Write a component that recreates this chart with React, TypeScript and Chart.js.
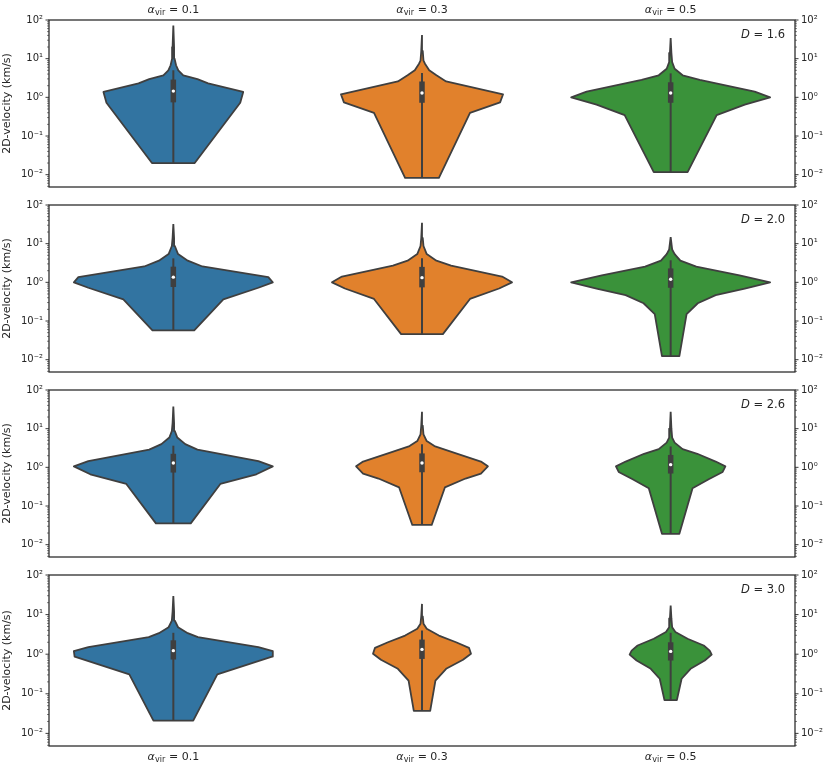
import { useEffect, useRef } from "react";
import { Chart, registerables } from "chart.js";

Chart.register(...registerables);

// ---------- data ----------
const alphaLabels = ["0.1", "0.3", "0.5"];
const dLabels = ["1.6", "2.0", "2.6", "3.0"];
const fillColors = ["#3274a1", "#e1812c", "#3a923a"];
const yTickValues = [0.01, 0.1, 1, 10, 100];
const yTickLabels = ["10⁻²", "10⁻¹", "10⁰", "10¹", "10²"];
const Y_MIN = 0.0048;
const Y_MAX = 100;

// violin outlines: velocity (km/s) from top to bottom, and half-width (category units)
// box stats: [min, q1, median, q3, upper whisker]
// D = 1.6
const v16a = [72.4, 20, 10, 6.76, 5.01, 3.72, 2.95, 2.29, 1.38, 0.724, 0.02];
const w16a = [0, 0.003, 0.005, 0.011, 0.02, 0.04, 0.097, 0.14, 0.281, 0.269, 0.086];
const b16a = [0.02, 0.741, 1.45, 2.88, 5.01];
const v16b = [40.7, 15.8, 8.91, 7.41, 5.01, 3.72, 2.57, 1.2, 0.741, 0.398, 0.0083];
const w16b = [0, 0.003, 0.006, 0.012, 0.029, 0.058, 0.097, 0.326, 0.314, 0.193, 0.068];
const b16b = [0.0083, 0.724, 1.29, 2.57, 4.27];
const v16c = [33.9, 14, 8.13, 5.5, 3.72, 2.82, 1.41, 1.0, 0.646, 0.347, 0.0117];
const w16c = [0, 0.003, 0.006, 0.016, 0.048, 0.117, 0.338, 0.4, 0.298, 0.185, 0.068];
const b16c = [0.0117, 0.724, 1.29, 2.45, 4.17];
// D = 2.0
const v20a = [32.4, 14, 8.71, 5.37, 3.63, 2.57, 1.36, 1.0, 0.724, 0.363, 0.0575];
const w20a = [0, 0.003, 0.006, 0.019, 0.058, 0.117, 0.382, 0.4, 0.342, 0.201, 0.084];
const b20a = [0.0575, 0.759, 1.36, 2.54, 4.17];
const v20b = [34.7, 14, 8.71, 5.37, 3.63, 2.69, 1.41, 1.0, 0.692, 0.372, 0.0457];
const w20b = [0, 0.003, 0.006, 0.019, 0.058, 0.117, 0.322, 0.362, 0.31, 0.193, 0.084];
const b20b = [0.0457, 0.741, 1.32, 2.51, 4.17];
const v20c = [14.8, 7.08, 5.37, 3.63, 2.54, 1.51, 1.0, 0.692, 0.468, 0.288, 0.151, 0.0123];
const w20c = [0, 0.006, 0.016, 0.039, 0.103, 0.277, 0.4, 0.298, 0.181, 0.109, 0.064, 0.035];
const b20c = [0.0123, 0.724, 1.2, 2.29, 3.72];
// D = 2.6
const v26a = [37.2, 14, 8.71, 5.89, 3.98, 2.86, 1.45, 1.06, 0.661, 0.372, 0.0355];
const w26a = [0, 0.003, 0.006, 0.016, 0.048, 0.097, 0.342, 0.4, 0.334, 0.189, 0.07];
const b26a = [0.0355, 0.733, 1.29, 2.24, 3.63];
const v26b = [27.5, 12, 7.08, 4.79, 3.55, 2.29, 1.41, 1.06, 0.692, 0.513, 0.302, 0.0324];
const w26b = [0, 0.003, 0.006, 0.019, 0.05, 0.137, 0.237, 0.265, 0.237, 0.175, 0.092, 0.039];
const b26b = [0.0324, 0.746, 1.29, 2.29, 3.98];
const v26c = [27.5, 10, 5.89, 4.37, 2.95, 2.24, 1.41, 1.06, 0.759, 0.49, 0.288, 0.0191];
const w26c = [0, 0.003, 0.006, 0.016, 0.048, 0.107, 0.181, 0.22, 0.209, 0.153, 0.088, 0.035];
const b26c = [0.0191, 0.692, 1.175, 2.09, 3.47];
// D = 3.0
const v30a = [29.5, 12, 7.08, 4.79, 3.39, 2.69, 1.51, 1.19, 0.871, 0.309, 0.0209];
const w30a = [0, 0.003, 0.006, 0.019, 0.058, 0.099, 0.342, 0.4, 0.397, 0.177, 0.08];
const b30a = [0.0209, 0.733, 1.23, 2.24, 3.47];
const v30b = [18.6, 9, 5.89, 4.37, 2.95, 2.0, 1.45, 1.023, 0.724, 0.427, 0.214, 0.0372];
const w30b = [0, 0.003, 0.006, 0.019, 0.068, 0.137, 0.189, 0.197, 0.165, 0.097, 0.054, 0.033];
const b30b = [0.0372, 0.759, 1.32, 2.34, 3.98];
const v30c = [17.0, 8, 4.79, 3.63, 2.45, 1.66, 1.23, 0.977, 0.692, 0.427, 0.24, 0.0692];
const w30c = [0, 0.003, 0.006, 0.019, 0.068, 0.133, 0.157, 0.165, 0.137, 0.08, 0.044, 0.025];
const b30c = [0.0692, 0.692, 1.175, 2.0, 3.47];

const panels = [
  { d: dLabels[0], violins: [{ v: v16a, w: w16a, b: b16a }, { v: v16b, w: w16b, b: b16b }, { v: v16c, w: w16c, b: b16c }] },
  { d: dLabels[1], violins: [{ v: v20a, w: w20a, b: b20a }, { v: v20b, w: w20b, b: b20b }, { v: v20c, w: w20c, b: b20c }] },
  { d: dLabels[2], violins: [{ v: v26a, w: w26a, b: b26a }, { v: v26b, w: w26b, b: b26b }, { v: v26c, w: w26c, b: b26c }] },
  { d: dLabels[3], violins: [{ v: v30a, w: w30a, b: b30a }, { v: v30b, w: w30b, b: b30b }, { v: v30c, w: w30c, b: b30c }] },
];

// ---------- style ----------
const INK = "#262626";
const GRAY = "#3f3f3f";
const FONT = "'DejaVu Sans', sans-serif";
const PANEL_STEP = 185;
const CANVAS_H = 191;
const LAST_H = 209;

function tickLabel(value: number): string {
  for (let i = 0; i < yTickValues.length; i++) {
    if (Math.abs(Math.log10(value) - Math.log10(yTickValues[i])) < 1e-6) return yTickLabels[i];
  }
  return "";
}

function drawAlphaLabel(ctx: CanvasRenderingContext2D, cx: number, baseline: number, val: string) {
  const mainF = `11px ${FONT}`;
  const itF = `italic 11px ${FONT}`;
  const subF = `8px ${FONT}`;
  const rest = " = " + val;
  ctx.font = itF;
  const wA = ctx.measureText("α").width;
  ctx.font = subF;
  const wS = ctx.measureText("vir").width;
  ctx.font = mainF;
  const wR = ctx.measureText(rest).width;
  let x = cx - (wA + wS + 0.5 + wR) / 2;
  ctx.textAlign = "left";
  ctx.textBaseline = "alphabetic";
  ctx.fillStyle = INK;
  ctx.font = itF;
  ctx.fillText("α", x, baseline);
  x += wA + 0.3;
  ctx.font = subF;
  ctx.fillText("vir", x, baseline + 2);
  x += wS + 0.2;
  ctx.font = mainF;
  ctx.fillText(rest, x, baseline);
}

function makeDecorPlugin(idx: number, dText: string) {
  return {
    id: "decor" + idx,
    afterDraw(chart: any) {
      const ctx: CanvasRenderingContext2D = chart.ctx;
      const { left, right, top, bottom } = chart.chartArea;
      const ys = chart.scales.y;
      const xs = chart.scales.x;
      ctx.save();
      // ticks (major + minor) on both sides
      ctx.strokeStyle = INK;
      for (let e = -3; e <= 2; e++) {
        for (let m = 1; m <= 9; m++) {
          const val = m * Math.pow(10, e);
          if (val < Y_MIN - 1e-12 || val > Y_MAX + 1e-9) continue;
          const py = ys.getPixelForValue(val);
          const len = m === 1 ? 3.5 : 2;
          ctx.lineWidth = m === 1 ? 0.9 : 0.6;
          ctx.beginPath();
          ctx.moveTo(left, py);
          ctx.lineTo(left - len, py);
          ctx.moveTo(right, py);
          ctx.lineTo(right + len, py);
          ctx.stroke();
        }
      }
      // frame
      ctx.lineWidth = 1.25;
      ctx.strokeStyle = INK;
      ctx.strokeRect(left, top, right - left, bottom - top);
      // D label
      ctx.fillStyle = INK;
      ctx.textBaseline = "alphabetic";
      ctx.textAlign = "left";
      const rest = " = " + dText;
      ctx.font = `11.5px ${FONT}`;
      const wR = ctx.measureText(rest).width;
      ctx.font = `italic 11.5px ${FONT}`;
      const wD = ctx.measureText("D").width;
      const xEnd = right - 10;
      ctx.fillText("D", xEnd - wR - wD, top + 17.5);
      ctx.font = `11.5px ${FONT}`;
      ctx.fillText(rest, xEnd - wR, top + 17.5);
      // category labels
      if (idx === 0) {
        alphaLabels.forEach((a, i) => drawAlphaLabel(ctx, xs.getPixelForValue(i), top - 7.5, a));
      }
      if (idx === panels.length - 1) {
        alphaLabels.forEach((a, i) => drawAlphaLabel(ctx, xs.getPixelForValue(i), bottom + 13.5, a));
      }
      ctx.restore();
    },
  };
}

function buildDatasets(panel: (typeof panels)[number]) {
  const ds: any[] = [];
  panel.violins.forEach((vi, i) => {
    const leftSide = vi.v.map((y, k) => ({ x: i - vi.w[k], y }));
    const rightSide = vi.v.map((y, k) => ({ x: i + vi.w[k], y })).reverse();
    ds.push({
      data: [...leftSide, ...rightSide],
      borderColor: GRAY,
      borderWidth: 1.8,
      backgroundColor: fillColors[i],
      fill: "shape",
      pointRadius: 0,
      tension: 0,
      borderJoinStyle: "round",
      order: 3,
    });
    ds.push({
      data: [{ x: i, y: vi.b[0] }, { x: i, y: vi.b[4] }],
      borderColor: GRAY,
      borderWidth: 2,
      pointRadius: 0,
      fill: false,
      order: 2,
    });
    ds.push({
      data: [{ x: i, y: vi.b[1] }, { x: i, y: vi.b[3] }],
      borderColor: GRAY,
      borderWidth: 5.5,
      borderCapStyle: "butt",
      pointRadius: 0,
      fill: false,
      order: 1,
    });
    ds.push({
      data: [{ x: i, y: vi.b[2] }],
      showLine: false,
      pointRadius: 1.7,
      pointBorderWidth: 0,
      pointBackgroundColor: "#ffffff",
      pointBorderColor: "#ffffff",
      fill: false,
      order: 0,
    });
  });
  return ds;
}

function yAxis(position: "left" | "right", width: number, withTitle: boolean) {
  return {
    type: "logarithmic",
    position,
    min: Y_MIN,
    max: Y_MAX,
    afterBuildTicks: (s: any) => {
      s.ticks = yTickValues.map((v) => ({ value: v }));
    },
    afterFit: (s: any) => {
      s.width = width;
      s.paddingTop = 0;
      s.paddingBottom = 0;
    },
    grid: { display: false, drawTicks: false },
    border: { display: false },
    ticks: {
      callback: (value: any) => tickLabel(Number(value)),
      color: INK,
      font: { family: FONT, size: 10 },
      padding: 6,
      autoSkip: false,
      maxRotation: 0,
    },
    title: {
      display: withTitle,
      text: "2D-velocity (km/s)",
      color: INK,
      font: { family: FONT, size: 11 },
      padding: { top: 1, bottom: 0 },
    },
  };
}

export default function App() {
  const refs = useRef<(HTMLCanvasElement | null)[]>([]);

  useEffect(() => {
    const charts: Chart[] = [];
    panels.forEach((panel, idx) => {
      const canvas = refs.current[idx];
      if (!canvas) return;
      const h = idx === panels.length - 1 ? LAST_H : CANVAS_H;
      const cfg: any = {
        type: "line",
        data: { datasets: buildDatasets(panel) },
        options: {
          animation: false,
          responsive: false,
          events: [],
          layout: { padding: { top: 20, bottom: h - CANVAS_H, left: 0, right: 0 } },
          plugins: {
            legend: { display: false },
            tooltip: { enabled: false },
            filler: { propagate: false },
          },
          scales: {
            x: { type: "linear", min: -0.5, max: 2.5, display: false },
            y: yAxis("left", 49, true),
            y2: yAxis("right", 35, false),
          },
        },
        plugins: [makeDecorPlugin(idx, panel.d)],
      };
      charts.push(new Chart(canvas, cfg));
    });
    return () => charts.forEach((c) => c.destroy());
  }, []);

  return (
    <div style={{ position: "absolute", left: 0, top: 0, width: 830, height: 764, background: "#ffffff" }}>
      {panels.map((p, idx) => {
        const h = idx === panels.length - 1 ? LAST_H : CANVAS_H;
        return (
          <canvas
            key={p.d}
            ref={(el) => {
              refs.current[idx] = el;
            }}
            width={830}
            height={h}
            style={{ position: "absolute", left: 0, top: idx * PANEL_STEP, width: 830, height: h }}
          />
        );
      })}
    </div>
  );
}
